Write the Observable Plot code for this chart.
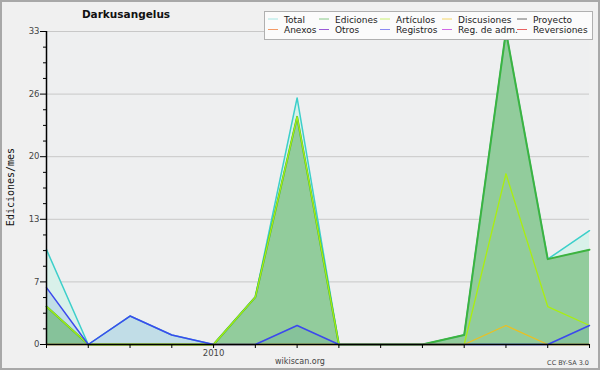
<!DOCTYPE html>
<html>
<head>
<meta charset="utf-8">
<script src="https://cdn.jsdelivr.net/npm/d3@7"></script>
<script src="https://cdn.jsdelivr.net/npm/@observablehq/plot@0.6"></script>
<style>
  html, body { margin: 0; padding: 0; background: #f0f0f0; }
  #chart { width: 600px; height: 370px; }
  svg { display: block; }
</style>
</head>
<body>
<div id="chart"></div>
<script>
// ---- data ----
const months = ["2009-09","2009-10","2009-11","2009-12","2010-01","2010-02","2010-03","2010-04","2010-05","2010-06","2010-07","2010-08","2010-09","2010-10"];
const xTickLabels = ["","","","","2010","","","","","","","","",""];
const total       = [10,0,3,1,0,5,26,0,0,0,1,33,9,12];
const ediciones   = [4,0,0,0,0,5,24,0,0,0,1,33,9,10];
const articulos   = [4,0,0,0,0,5,24,0,0,0,0,18,4,2];
const discusiones = [0,0,0,0,0,0,0,0,0,0,0,2,0,0];
const registros   = [6,0,3,1,0,0,2,0,0,0,0,0,0,2];
const yTickValues = [0, 6.6, 13.2, 19.8, 26.4, 33];
const yTickLabels = ["0","7","13","20","26","33"];
const legendNames  = ["Total","Ediciones","Artículos","Discusiones","Proyecto","Anexos","Otros","Registros","Reg. de adm.","Reversiones"];
const legendColors = ["#a6e6e3","#86c886","#c8f070","#f4d668","#6a6a6a","#f39a66","#9a5ad6","#8a8af2","#d068e6","#e86262"];
const title = "Darkusangelus";
const yLabel = "Ediciones/mes";

// ---- build table ----
const idx = months.map((_, i) => i);
const rows = idx.map(i => ({i, month: months[i], total: total[i], ediciones: ediciones[i], articulos: articulos[i], discusiones: discusiones[i], registros: registros[i]}));
const minorTicks = d3.range(0, 33.001, 1.65).filter(v => !yTickValues.some(t => Math.abs(t - v) < 1e-6));

const font = "DejaVu Sans, sans-serif";

const plot = Plot.plot({
  width: 600,
  height: 370,
  marginLeft: 46,
  marginRight: 11,
  marginTop: 31,
  marginBottom: 26,
  style: {background: "transparent", fontFamily: font, color: "#444"},
  x: {domain: [0, months.length - 1], axis: null, label: null},
  y: {domain: [0, 33], axis: null, label: null},
  marks: [
    Plot.frame({fill: "#eeeff0", stroke: null}),
    Plot.gridY(yTickValues, {stroke: "#c8c8c8", strokeOpacity: 1, strokeWidth: 1}),
    Plot.areaY(rows, {x: "i", y: "total", fill: "#d9f1ea", curve: "linear"}),
    Plot.areaY(rows, {x: "i", y: "registros", fill: "#c1dde7", curve: "linear"}),
    Plot.areaY(rows, {x: "i", y: "ediciones", fill: "rgb(76,168,78)", fillOpacity: 0.5, curve: "linear"}),
    Plot.lineY(rows, {x: "i", y: "total", stroke: "#3ccfca", strokeWidth: 1.5}),
    Plot.lineY(rows, {x: "i", y: "ediciones", stroke: "#3db340", strokeWidth: 2}),
    Plot.lineY(rows, {x: "i", y: "articulos", stroke: "#aaee10", strokeWidth: 1.3}),
    Plot.lineY(rows, {x: "i", y: "discusiones", stroke: "#ecc020", strokeWidth: 1.3}),
    Plot.lineY(rows, {x: "i", y: "registros", stroke: "#3c48ee", strokeWidth: 1.5}),
    Plot.ruleY([0], {stroke: "#000", strokeWidth: 1.5}),
    Plot.ruleX([0], {stroke: "#000", strokeWidth: 1.5}),
    Plot.axisY(yTickValues, {label: null, tickSize: 6, tickPadding: 1, tickFormat: (d, i) => yTickLabels[i], fontSize: 8.5, stroke: "#000", fill: "#444"}),
    Plot.axisY(minorTicks, {label: null, tickSize: 3, tickFormat: () => "", stroke: "#000"}),
    Plot.axisX(idx, {label: null, tickSize: 4, tickPadding: 1, tickFormat: i => xTickLabels[i], fontSize: 8.5, stroke: "#000", fill: "#444"})
  ]
});

document.getElementById("chart").appendChild(plot);
const svg = d3.select(plot);

// outer border
svg.insert("rect", ":first-child").attr("x", 1).attr("y", 1).attr("width", 598).attr("height", 368)
  .attr("fill", "#f0f0f0").attr("stroke", "#a8a8a8").attr("stroke-width", 2);

// title
svg.append("text").attr("x", 126).attr("y", 18).attr("text-anchor", "middle")
  .attr("font-family", font).attr("font-weight", "bold").attr("font-size", 10.5).attr("fill", "#111").text(title);

// y label
svg.append("text").attr("transform", "translate(14,187) rotate(-90)").attr("text-anchor", "middle")
  .attr("font-family", "DejaVu Sans Mono, monospace").attr("font-size", 10).attr("fill", "#111").text(yLabel);

// footer
svg.append("text").attr("x", 300).attr("y", 364).attr("text-anchor", "middle")
  .attr("font-family", font).attr("font-size", 8).attr("fill", "#444").text("wikiscan.org");
svg.append("text").attr("x", 589).attr("y", 365).attr("text-anchor", "end")
  .attr("font-family", font).attr("font-size", 6.5).attr("fill", "#444").text("CC BY-SA 3.0");

// legend
const lg = svg.append("g");
lg.append("rect").attr("x", 264.5).attr("y", 11.5).attr("width", 328).attr("height", 28)
  .attr("fill", "#fbfbfb").attr("stroke", "#b0b0b0").attr("stroke-width", 1);
const colX = [268, 319, 380, 442, 517];
legendNames.forEach((name, k) => {
  const col = k % 5, row = Math.floor(k / 5);
  const y = 19 + row * 10.5;
  lg.append("line").attr("x1", colX[col]).attr("x2", colX[col] + 10).attr("y1", y).attr("y2", y)
    .attr("stroke", legendColors[k]).attr("stroke-width", 1);
  lg.append("text").attr("x", colX[col] + 16).attr("y", y + 3.5).attr("text-anchor", "start")
    .attr("font-family", font).attr("font-size", 9).attr("fill", "#222").text(name);
});
</script>
</body>
</html>
